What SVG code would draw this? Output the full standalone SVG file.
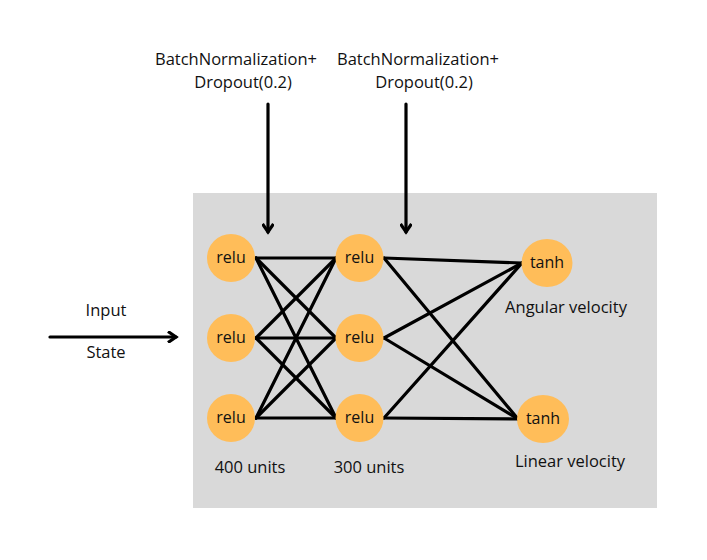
<svg xmlns="http://www.w3.org/2000/svg" width="707" height="560" viewBox="0 0 707 560">
<defs>
<style>
text{font-family:"Open Sans","Noto Sans","Liberation Sans",sans-serif;font-size:16.5px;fill:#111;}
.n{text-anchor:middle;}
.nl{font-size:16px;}
.node{fill:#ffbd59;}
.c line{stroke:#000;stroke-width:3.2;stroke-linecap:round;}
.arr{stroke:#000;stroke-width:3.2;fill:none;}
</style>
<marker id="ah" viewBox="0 0 14 12" refX="11" refY="6" markerWidth="14" markerHeight="12" markerUnits="userSpaceOnUse" orient="auto">
<path d="M3,0.5 L11,6 L3,11.5" fill="none" stroke="#000" stroke-width="3.2"/>
</marker>
</defs>
<rect width="707" height="560" fill="#fff"/>
<rect id="panel" x="193" y="193" width="464" height="315" fill="#d9d9d9"/>
<g id="labels">
<text class="n" x="236" y="65">BatchNormalization+</text>
<text class="n" x="243" y="88">Dropout(0.2)</text>
<text class="n" x="418" y="64.5">BatchNormalization+</text>
<text class="n" x="424" y="87.5">Dropout(0.2)</text>
<text class="n" x="106" y="316">Input</text>
<text class="n" x="106" y="358">State</text>
<text class="n" x="250" y="473">400 units</text>
<text class="n" x="369" y="473">300 units</text>
<text class="n" x="566" y="313">Angular velocity</text>
<text class="n" x="570" y="467">Linear velocity</text>
</g>
<g id="connectors" class="c">
<line x1="256" y1="258" x2="336" y2="258"/>
<line x1="256" y1="258" x2="336" y2="338"/>
<line x1="256" y1="258" x2="336" y2="418"/>
<line x1="256" y1="338" x2="336" y2="258"/>
<line x1="256" y1="338" x2="336" y2="338"/>
<line x1="256" y1="338" x2="336" y2="418"/>
<line x1="256" y1="418" x2="336" y2="258"/>
<line x1="256" y1="418" x2="336" y2="338"/>
<line x1="256" y1="418" x2="336" y2="418"/>
<line x1="384" y1="258" x2="522" y2="263"/>
<line x1="384" y1="258" x2="518" y2="419"/>
<line x1="384" y1="338" x2="522" y2="263"/>
<line x1="384" y1="338" x2="518" y2="419"/>
<line x1="384" y1="418" x2="522" y2="263"/>
<line x1="384" y1="418" x2="518" y2="419"/>
<line class="arr" x1="268" y1="104" x2="268" y2="232" marker-end="url(#ah)"/>
<line class="arr" x1="406" y1="104" x2="406" y2="232" marker-end="url(#ah)"/>
<line class="arr" x1="50" y1="337" x2="176" y2="337" marker-end="url(#ah)"/>
</g>
<g id="l1n1"><circle class="node" cx="231" cy="258" r="24"/><text class="n nl" x="231" y="263">relu</text></g>
<g id="l1n2"><circle class="node" cx="231" cy="338" r="24"/><text class="n nl" x="231" y="343">relu</text></g>
<g id="l1n3"><circle class="node" cx="231" cy="418" r="24"/><text class="n nl" x="231" y="423">relu</text></g>
<g id="l2n1"><circle class="node" cx="359.5" cy="258" r="24"/><text class="n nl" x="359.5" y="263">relu</text></g>
<g id="l2n2"><circle class="node" cx="359.5" cy="338" r="24"/><text class="n nl" x="359.5" y="343">relu</text></g>
<g id="l2n3"><circle class="node" cx="359.5" cy="418" r="24"/><text class="n nl" x="359.5" y="423">relu</text></g>
<g id="out1"><ellipse class="node" cx="547" cy="263" rx="25.5" ry="24"/><text class="n nl" x="547" y="268">tanh</text></g>
<g id="out2"><ellipse class="node" cx="543" cy="419" rx="26" ry="24"/><text class="n nl" x="543" y="424">tanh</text></g>
</svg>
